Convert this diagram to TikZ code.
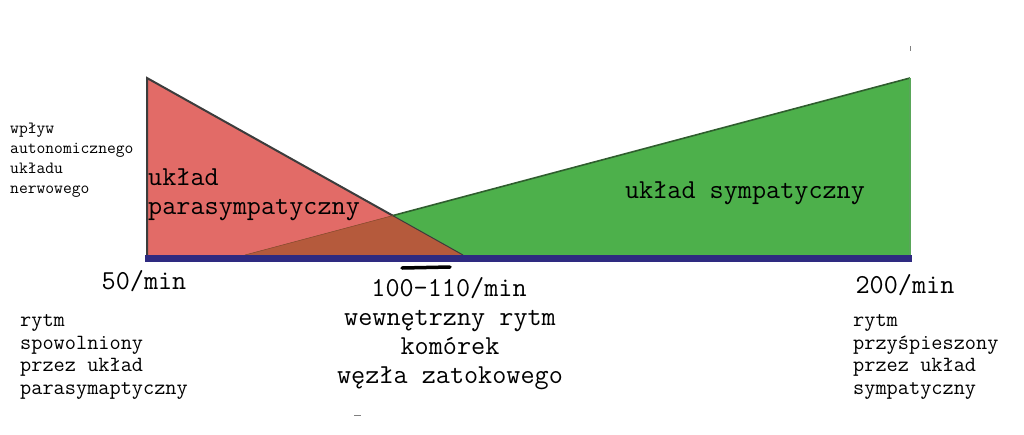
\documentclass[tikz,border=0pt]{standalone}
\usepackage{fontspec}
\usetikzlibrary{positioning}
\definecolor{parared}{HTML}{E26B67}
\definecolor{sympgreen}{HTML}{4DB04B}
\definecolor{overlapbrown}{HTML}{B55A3C}
\definecolor{axisnavy}{HTML}{2E2A80}
\definecolor{edgegray}{HTML}{3C3C3C}
\definecolor{edgegreen}{HTML}{2F5E2E}
\tikzset{
  bigtxt/.style={inner sep=0pt, font=\ttfamily\fontsize{27.4}{29}\selectfont},
  midtxt/.style={inner sep=0pt, align=left, font=\ttfamily\fontsize{21.7}{22.5}\selectfont},
  smalltxt/.style={inner sep=0pt, align=left, font=\ttfamily\fontsize{17.1}{20}\selectfont}
}

\begin{document}
\begin{tikzpicture}[x=1pt, y=-1pt]
    \useasboundingbox (0,0) rectangle (1024,434);
    \coordinate (redtop) at (147,78);
    \coordinate (redbase) at (147,255);
    \coordinate (redtip) at (463,255);
    \coordinate (greenstart) at (245,255);
    \coordinate (greentop) at (910,78);
    \coordinate (greenbase) at (910,255);
    \coordinate (cross) at (392.7,215.6);
    \coordinate (axisleft) at (145,258);
    \coordinate (axisright) at (912,258);

    % the two areas and their overlap
    \fill[parared] (redtop) -- (redbase) -- (redtip) -- cycle;
    \fill[sympgreen] (greenstart) -- (greentop) -- (greenbase) -- cycle;
    \fill[overlapbrown] (greenstart) -- (cross) -- (redtip) -- cycle;
    \draw[edgegray, line width=2pt] (redbase) -- (redtop) -- (cross);
    \draw[edgegray, line width=1pt] (cross) -- (redtip);
    \draw[edgegreen, line width=1.6pt] (cross) -- (greentop);
    \draw[gray!70!green, line width=1.5pt] (greentop) -- (greenbase);
    \draw[overlapbrown!80!black, line width=0.6pt] (greenstart) -- (cross);
    \draw[axisnavy, line width=7pt] (axisleft) -- (axisright);

    % marks
    \coordinate (barleft) at (402,268);
    \coordinate (barright) at (450,267);
    \draw[black, line width=3.5pt, line cap=round] (barleft) -- (barright);
    \coordinate (dashleft) at (354,415);
    \coordinate (dashright) at (361,415);
    \draw[gray, line width=0.8pt] (dashleft) -- (dashright);
    \coordinate (ticktop) at (910,46);
    \coordinate (tickbottom) at (910,51);
    \draw[gray, line width=0.8pt] (ticktop) -- (tickbottom);

    % labels
    \node[smalltxt, anchor=west] (effect) at (10,160) {wpływ\\autonomicznego\\układu\\nerwowego};
    \node[bigtxt, align=left, anchor=west] (paralabel) at (148,195) {układ\\parasympatyczny};
    \node[bigtxt] (symplabel) at (745,193) {układ sympatyczny};
    \node[bigtxt] (low) at (144,281) {50/min};
    \node[bigtxt] (mid) at (449,288) {100-110/min};
    \node[bigtxt, align=center] (midnote) at (450,350) {wewnętrzny rytm\\komórek\\węzła zatokowego};
    \node[bigtxt] (high) at (905,285) {200/min};
    \node[midtxt, anchor=west] (lownote) at (20,357) {rytm\\spowolniony\\przez układ\\parasymaptyczny};
    \node[midtxt, anchor=west] (highnote) at (853,357) {rytm\\przyśpieszony\\przez układ\\sympatyczny};
\end{tikzpicture}
\end{document}
